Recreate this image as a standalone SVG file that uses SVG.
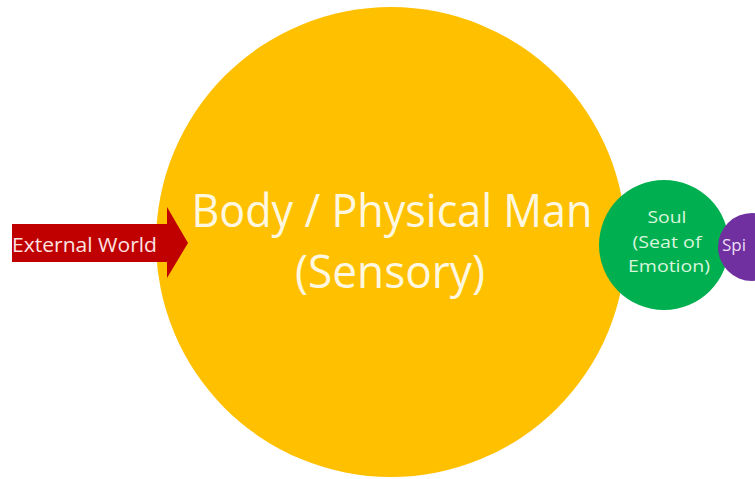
<svg xmlns="http://www.w3.org/2000/svg" width="755" height="479" viewBox="0 0 755 479">
<style>
  .lbl { font-family: "Open Sans", "Liberation Sans", sans-serif; }
  .big { font-size: 45px; fill: #FFF8E1; text-anchor: middle; }
  .small { font-size: 16px; fill: #D8F5DD; text-anchor: middle; }
</style>
<rect width="755" height="479" fill="#FFFFFF"/>
<g id="body">
  <circle cx="391" cy="242" r="235" fill="#FFC000"/>
  <text class="lbl big" x="392" y="227" textLength="401" lengthAdjust="spacingAndGlyphs">Body / Physical Man</text>
  <text class="lbl big" x="390" y="288" textLength="190" lengthAdjust="spacingAndGlyphs">(Sensory)</text>
</g>
<g id="connectors"></g>
<g id="external-world">
  <path d="M12,224 H167 V207 L188,243 L167,278 V262 H12 Z" fill="#C00000"/>
  <text class="lbl" x="12" y="252" font-size="20" fill="#FBE3E3" textLength="145" lengthAdjust="spacingAndGlyphs">External World</text>
</g>
<g id="soul">
  <circle cx="664" cy="245" r="65" fill="#00B050"/>
  <text class="lbl small" x="667" y="223" textLength="39" lengthAdjust="spacingAndGlyphs">Soul</text>
  <text class="lbl small" x="667" y="248" textLength="69" lengthAdjust="spacingAndGlyphs">(Seat of</text>
  <text class="lbl small" x="669" y="272" textLength="82" lengthAdjust="spacingAndGlyphs">Emotion)</text>
</g>
<g id="spirit">
  <circle cx="752" cy="247" r="34" fill="#7030A0"/>
  <text class="lbl" x="722" y="251" font-size="17" fill="#EBDDF5">Spi</text>
</g>
</svg>
